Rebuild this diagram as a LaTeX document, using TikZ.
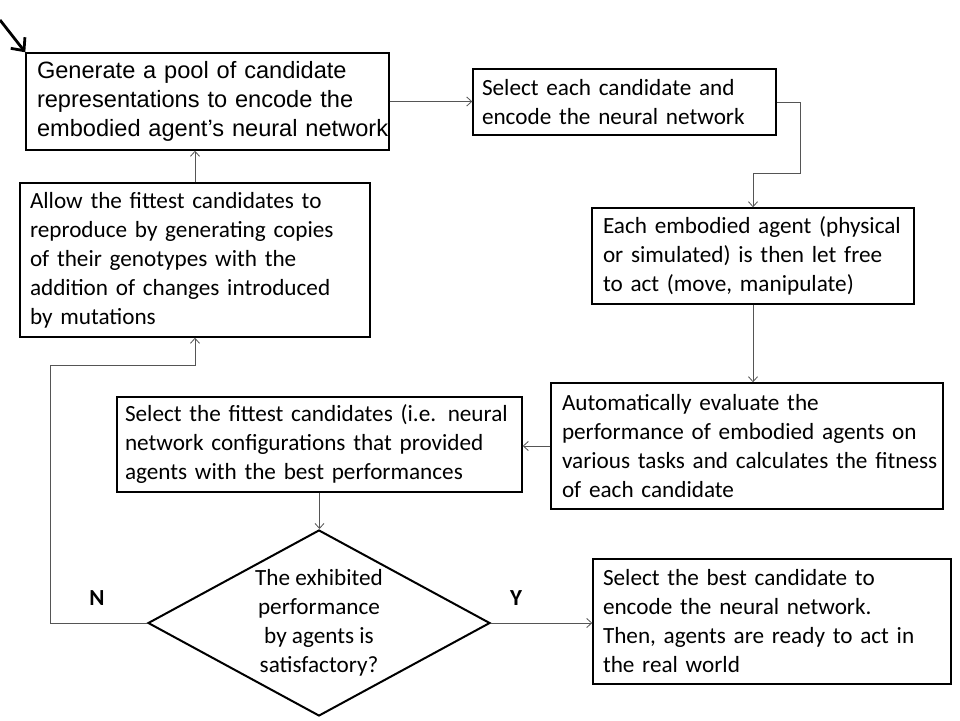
\documentclass[tikz,border=0pt]{standalone}
\usepackage{fontspec}
\setmainfont{Carlito}
\newfontfamily\arialfont{Liberation Sans}
\usetikzlibrary{arrows.meta,shapes.geometric}
\definecolor{linkgray}{HTML}{555555}

\tikzset{
  stepbox/.style={draw,line width=1.4pt,align=left,inner xsep=0pt,inner ysep=0pt,
    font=\fontsize{23.2}{29}\selectfont,
    execute at begin node={\rightskip=0pt plus 1fil minus 40pt\hyphenpenalty=10000\relax}},
  link/.style={draw=linkgray,line width=0.8pt,-{Straight Barb[length=5pt,width=9pt]}},
  decision/.style={draw,line width=2pt,diamond,inner sep=0pt},
}

\begin{document}
\begin{tikzpicture}[x=1pt,y=-1pt]
\useasboundingbox (0,0) rectangle (960,720);
% process boxes
\node[stepbox,minimum width=363,minimum height=97,text width=341,font=\arialfont\fontsize{23.6}{29}\selectfont] (gen) at (207.5,101.5)
  {Generate a pool of candidate\\representations to encode the\\embodied agent’s neural network};
\node[stepbox,minimum width=303,minimum height=66,text width=285] (sel) at (624.5,102)
  {Select each candidate and\\encode the neural network};
\node[stepbox,minimum width=322,minimum height=96,text width=300] (act) at (753,256)
  {Each embodied agent (physical\\or simulated) is then let free\\to act (move, manipulate)};
\node[stepbox,minimum width=392,minimum height=126,text width=370] (eval) at (747,446)
  {Automatically evaluate the\\performance of embodied agents on\\various tasks and calculates the fitness\\of each candidate};
\node[stepbox,minimum width=405,minimum height=95,text width=389] (fit) at (319.5,444.5)
  {Select the fittest candidates (i.e. neural\\network configurations that provided\\agents with the best performances};
\node[stepbox,minimum width=350,minimum height=154,text width=330] (allow) at (195,260)
  {Allow the fittest candidates to\\reproduce by generating copies\\of their genotypes with the\\addition of changes introduced\\by mutations};
\node[stepbox,minimum width=358,minimum height=125,text width=338] (best) at (772,621.5)
  {Select the best candidate to\\encode the neural network.\\Then, agents are ready to act in\\the real world};
% decision
\node[decision,minimum width=342,minimum height=186] (dec) at (319,623) {};
\node[align=center,inner sep=0pt,font=\fontsize{23.2}{29}\selectfont] (dectext) at (dec.center)
  {The exhibited\\performance\\by agents is\\satisfactory?};
\node[font=\bfseries\fontsize{23}{26}\selectfont] (no) at (97,598) {N};
\node[font=\bfseries\fontsize{23}{26}\selectfont] (yes) at (516,598) {Y};
% connectors
\coordinate (bendsel) at (800,173);
\coordinate (loopleft) at (50,365);
\coordinate (start) at (0,20);
\draw[line width=2.8pt,-{Straight Barb[length=10pt,width=18pt]}] (start) -- (gen.north west);
\draw[link] (gen.east) -- (gen.east -| sel.west);
\draw[link] (sel.east) -| (bendsel) -| (act.north);
\draw[link] (act.south) -- (act.south |- eval.north);
\draw[link] (eval.west) -- (eval.west -| fit.east);
\draw[link] (fit.south) -- (fit.south |- dec.north);
\draw[link] (dec.west) -| (loopleft) -| (allow.south);
\draw[link] (allow.north) -- (allow.north |- gen.south);
\draw[link] (dec.east) -- (dec.east -| best.west);
\end{tikzpicture}
\end{document}
